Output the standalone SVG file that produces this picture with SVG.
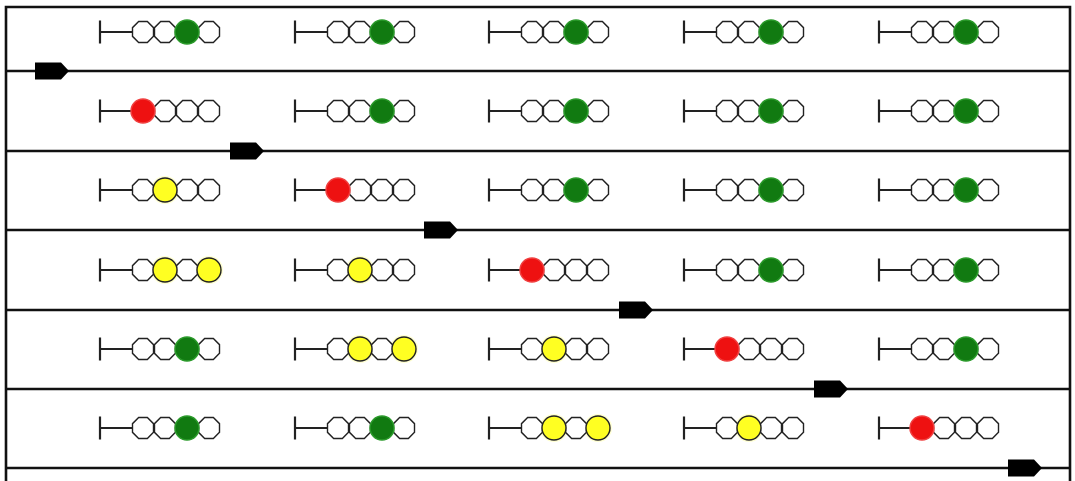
<svg xmlns="http://www.w3.org/2000/svg" xmlns:xlink="http://www.w3.org/1999/xlink" width="1075" height="481" viewBox="0 0 1075 481">
<style>
.frame{fill:none;stroke:#111;stroke-width:2.6}
.track{stroke:#111;stroke-width:2.6}
.post{stroke:#222;stroke-width:2.2;fill:none}
.off{fill:#fff;stroke:#222;stroke-width:1.4}
.g{fill:#117a11;stroke:#2a9a2a;stroke-width:1.5}
.r{fill:#ee1111;stroke:#f04040;stroke-width:1.5}
.y{fill:#ffff22;stroke:#222;stroke-width:1.4}
.train{fill:#000}
</style>
<defs>
<polygon id="lamp" points="10.5,4.35 4.35,10.5 -4.35,10.5 -10.5,4.35 -10.5,-4.35 -4.35,-10.5 4.35,-10.5 10.5,-4.35"/>
<circle id="lit" r="12"/>
<circle id="glow" r="14" fill="#ffff66" opacity="0.3"/>
<g id="sig">
<path class="post" d="M0,-11.5V11.5M0,0H32"/>
</g>
<g id="sG"><use href="#sig"/><use href="#lamp" class="off" x="43"/><use href="#lamp" class="off" x="65"/><use href="#lamp" class="off" x="109"/><use href="#lit" class="g" x="87"/></g>
<g id="sR"><use href="#sig"/><use href="#lamp" class="off" x="65"/><use href="#lamp" class="off" x="87"/><use href="#lamp" class="off" x="109"/><use href="#lit" class="r" x="43"/></g>
<g id="sY"><use href="#sig"/><use href="#glow" x="65"/><use href="#lamp" class="off" x="43"/><use href="#lamp" class="off" x="87"/><use href="#lamp" class="off" x="109"/><use href="#lit" class="y" x="65"/></g>
<g id="sYY"><use href="#sig"/><use href="#glow" x="65"/><use href="#glow" x="109"/><use href="#lamp" class="off" x="43"/><use href="#lamp" class="off" x="87"/><use href="#lit" class="y" x="65"/><use href="#lit" class="y" x="109"/></g>
<polygon id="tr" class="train" points="0,-8.5 26,-8.5 34,0 26,8.5 0,8.5"/>
</defs>
<rect width="1075" height="481" fill="#fff"/>
<g id="connectors">
<path class="frame" d="M6,490V7H1070V490"/>
<line class="track" x1="6" y1="71" x2="1070" y2="71"/>
<line class="track" x1="6" y1="151" x2="1070" y2="151"/>
<line class="track" x1="6" y1="230" x2="1070" y2="230"/>
<line class="track" x1="6" y1="310" x2="1070" y2="310"/>
<line class="track" x1="6" y1="389" x2="1070" y2="389"/>
<line class="track" x1="6" y1="468" x2="1070" y2="468"/>
</g>
<g id="trains">
<use id="train1" href="#tr" x="35" y="71"/>
<use id="train2" href="#tr" x="230" y="151"/>
<use id="train3" href="#tr" x="424" y="230"/>
<use id="train4" href="#tr" x="619" y="310"/>
<use id="train5" href="#tr" x="814" y="389"/>
<use id="train6" href="#tr" x="1008" y="468"/>
</g>
<g id="row1">
<use id="s1_1" href="#sG" x="100" y="32"/>
<use id="s1_2" href="#sG" x="295" y="32"/>
<use id="s1_3" href="#sG" x="489" y="32"/>
<use id="s1_4" href="#sG" x="684" y="32"/>
<use id="s1_5" href="#sG" x="879" y="32"/>
</g>
<g id="row2">
<use id="s2_1" href="#sR" x="100" y="111"/>
<use id="s2_2" href="#sG" x="295" y="111"/>
<use id="s2_3" href="#sG" x="489" y="111"/>
<use id="s2_4" href="#sG" x="684" y="111"/>
<use id="s2_5" href="#sG" x="879" y="111"/>
</g>
<g id="row3">
<use id="s3_1" href="#sY" x="100" y="190"/>
<use id="s3_2" href="#sR" x="295" y="190"/>
<use id="s3_3" href="#sG" x="489" y="190"/>
<use id="s3_4" href="#sG" x="684" y="190"/>
<use id="s3_5" href="#sG" x="879" y="190"/>
</g>
<g id="row4">
<use id="s4_1" href="#sYY" x="100" y="270"/>
<use id="s4_2" href="#sY" x="295" y="270"/>
<use id="s4_3" href="#sR" x="489" y="270"/>
<use id="s4_4" href="#sG" x="684" y="270"/>
<use id="s4_5" href="#sG" x="879" y="270"/>
</g>
<g id="row5">
<use id="s5_1" href="#sG" x="100" y="349"/>
<use id="s5_2" href="#sYY" x="295" y="349"/>
<use id="s5_3" href="#sY" x="489" y="349"/>
<use id="s5_4" href="#sR" x="684" y="349"/>
<use id="s5_5" href="#sG" x="879" y="349"/>
</g>
<g id="row6">
<use id="s6_1" href="#sG" x="100" y="428"/>
<use id="s6_2" href="#sG" x="295" y="428"/>
<use id="s6_3" href="#sYY" x="489" y="428"/>
<use id="s6_4" href="#sY" x="684" y="428"/>
<use id="s6_5" href="#sR" x="879" y="428"/>
</g>
</svg>
